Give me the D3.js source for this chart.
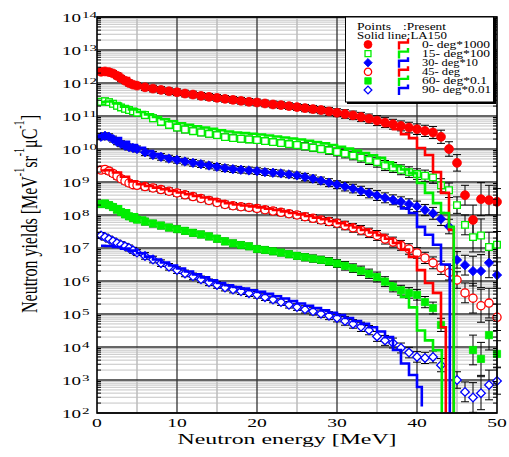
<!DOCTYPE html>
<html>
<head>
<meta charset="utf-8">
<script src="https://cdn.jsdelivr.net/npm/d3@7"></script>
<style>
  body { margin: 0; background: #fff; }
  text { font-family: "Liberation Serif", "Times New Roman", serif; fill: #000; }
</style>
</head>
<body>
<div id="chart"></div>
<script>
// ----- DATA -----
// Energies of the measured points [MeV]
const energies = [0.5, 1, 1.5, 2, 2.5, 3, 3.5, 4, 4.5, 5,
  6, 7, 8, 9, 10, 11, 12, 13, 14, 15,
  16, 17, 18, 19, 20, 21, 22, 23, 24, 25,
  26, 27, 28, 29, 30, 31, 32, 33, 34, 35,
  36, 37, 38, 39, 40, 41, 42, 43, 44, 45,
  46, 47, 48, 49, 50];

// Measured yields, log10 values (already multiplied by the legend factor)
const deg0 = [12.34, 12.35, 12.33, 12.29, 12.22, 12.14, 12.07, 12.0, 11.95, 11.92,
  11.87, 11.83, 11.79, 11.75, 11.72, 11.68, 11.65, 11.61, 11.58, 11.55,
  11.52, 11.49, 11.46, 11.43, 11.41, 11.38, 11.35, 11.33, 11.3, 11.27,
  11.24, 11.21, 11.18, 11.14, 11.1, 11.06, 11.02, 10.97, 10.92, 10.86,
  10.8, 10.75, 10.7, 10.65, 10.6, 10.55, 10.5, 10.37, 10.0, 9.58,
  8.6, 7.85, 8.48, 8.45, 8.4];
const deg15 = [11.43, 11.45, 11.42, 11.37, 11.31, 11.26, 11.22, 11.18, 11.14, 11.1,
  11.03, 10.93, 10.82, 10.73, 10.65, 10.59, 10.54, 10.5, 10.46, 10.42,
  10.36, 10.33, 10.31, 10.29, 10.27, 10.24, 10.21, 10.18, 10.15, 10.12,
  10.08, 10.04, 10.0, 9.96, 9.91, 9.86, 9.8, 9.74, 9.67, 9.6,
  9.5, 9.44, 9.37, 9.3, 9.24, 9.19, 9.14, 8.9, 8.75, 8.3,
  7.7, 7.33, 7.38, 7.03, 7.1];
const deg30 = [10.37, 10.4, 10.37, 10.3, 10.22, 10.16, 10.1, 10.06, 10.03, 10.0,
  9.9, 9.82, 9.76, 9.71, 9.67, 9.62, 9.58, 9.54, 9.5, 9.46,
  9.42, 9.39, 9.37, 9.35, 9.33, 9.3, 9.28, 9.26, 9.23, 9.2,
  9.15, 9.1, 9.04, 8.98, 8.92, 8.86, 8.8, 8.73, 8.66, 8.59,
  8.52, 8.46, 8.4, 8.33, 8.26, 8.15, 8.05, 7.88, 7.65, 6.64,
  6.48, 6.3, 6.3, 6.55, 6.18];
const deg45 = [9.36, 9.38, 9.33, 9.26, 9.18, 9.1, 9.03, 8.97, 8.92, 8.9,
  8.86, 8.82, 8.77, 8.72, 8.67, 8.61, 8.56, 8.5, 8.44, 8.38,
  8.32, 8.28, 8.25, 8.23, 8.2, 8.16, 8.12, 8.08, 8.04, 8.0,
  7.95, 7.9, 7.85, 7.8, 7.75, 7.68, 7.61, 7.54, 7.46, 7.38,
  7.27, 7.18, 7.08, 6.97, 6.85, 6.7, 6.55, 6.4, 6.25, 6.03,
  5.64, 5.48, 5.25, 5.33, 4.9];
const deg60 = [8.33, 8.35, 8.3, 8.24, 8.16, 8.09, 8.02, 7.96, 7.91, 7.86,
  7.8, 7.74, 7.68, 7.62, 7.57, 7.52, 7.46, 7.41, 7.35, 7.28,
  7.2, 7.14, 7.09, 7.05, 6.97, 6.94, 6.9, 6.86, 6.81, 6.76,
  6.72, 6.68, 6.64, 6.59, 6.53, 6.46, 6.39, 6.31, 6.22, 6.12,
  5.98, 5.82, 5.72, 5.64, 5.58, 5.36, 5.18, 4.67, null, null,
  null, 3.91, 3.64, 4.36, 3.79];
const deg90 = [7.38, 7.33, 7.27, 7.21, 7.15, 7.1, 7.05, 7.0, 6.93, 6.86,
  6.76, 6.65, 6.54, 6.43, 6.33, 6.23, 6.14, 6.05, 5.96, 5.88,
  5.8, 5.74, 5.69, 5.63, 5.58, 5.51, 5.44, 5.36, 5.28, 5.21,
  5.14, 5.08, 5.01, 4.95, 4.88, 4.79, 4.7, 4.61, 4.51, 4.32,
  4.2, 4.12, 3.97, 3.83, 3.7, 3.67, 3.7, 3.45, null, 3.0,
  2.64, 2.47, 2.6, 2.85, 2.97];

// Error half-widths in decades, per energy
const errLog = [0.09, 0.09, 0.09, 0.09, 0.09, 0.09, 0.09, 0.09, 0.09, 0.09,
  0.1, 0.1, 0.1, 0.1, 0.1, 0.1, 0.1, 0.1, 0.1, 0.1,
  0.1, 0.1, 0.1, 0.1, 0.1, 0.1, 0.1, 0.1, 0.1, 0.1,
  0.11, 0.11, 0.11, 0.12, 0.12, 0.13, 0.13, 0.14, 0.14, 0.15,
  0.15, 0.15, 0.15, 0.16, 0.16, 0.17, 0.18, 0.2, 0.22, 0.25,
  0.3, 0.45, 0.5, 0.45, 0.4];

// LA150 histograms, log10 value per 1 MeV bin (first bin starts at 0.5 MeV)
const la0 = [12.32, 12.34, 12.28, 12.15, 12.0, 11.91, 11.86, 11.82, 11.78, 11.74,
  11.7, 11.67, 11.63, 11.6, 11.57, 11.54, 11.51, 11.48, 11.45, 11.42,
  11.39, 11.36, 11.34, 11.31, 11.28, 11.25, 11.22, 11.19, 11.15, 11.11,
  11.07, 11.02, 10.97, 10.92, 10.86, 10.8, 10.7, 10.6, 10.45, 10.33,
  10.03, 9.82, 9.3, 8.67, 7.55];
const la15 = [11.42, 11.44, 11.38, 11.28, 11.2, 11.12, 11.05, 10.97, 10.9, 10.84,
  10.78, 10.73, 10.69, 10.65, 10.61, 10.57, 10.53, 10.5, 10.48, 10.46,
  10.44, 10.41, 10.38, 10.35, 10.32, 10.29, 10.25, 10.21, 10.17, 10.12,
  10.07, 10.01, 9.95, 9.88, 9.81, 9.73, 9.6, 9.48, 9.38, 9.27,
  8.97, 8.67, 8.36, 8.06, 7.64];
const la30 = [10.36, 10.39, 10.33, 10.22, 10.12, 10.04, 9.94, 9.85, 9.78, 9.72,
  9.67, 9.62, 9.58, 9.54, 9.5, 9.46, 9.43, 9.4, 9.38, 9.35,
  9.33, 9.3, 9.28, 9.25, 9.22, 9.18, 9.13, 9.08, 9.02, 8.96,
  8.9, 8.84, 8.78, 8.71, 8.64, 8.56, 8.48, 8.36, 8.2, 8.06,
  7.64, 7.4, 7.1, 6.5];
const la45 = [9.35, 9.36, 9.29, 9.16, 9.02, 8.93, 8.88, 8.83, 8.78, 8.73,
  8.68, 8.63, 8.58, 8.53, 8.48, 8.42, 8.36, 8.32, 8.29, 8.26,
  8.23, 8.19, 8.15, 8.11, 8.06, 8.02, 7.97, 7.92, 7.87, 7.81,
  7.75, 7.69, 7.62, 7.55, 7.47, 7.39, 7.28, 7.15, 6.95, 6.73,
  6.33, 5.94, 5.64, 4.6];
const la60 = [8.32, 8.33, 8.26, 8.14, 8.02, 7.92, 7.82, 7.75, 7.69, 7.63,
  7.58, 7.53, 7.47, 7.42, 7.36, 7.28, 7.2, 7.14, 7.09, 7.04,
  7.0, 6.96, 6.92, 6.88, 6.83, 6.79, 6.74, 6.69, 6.64, 6.58,
  6.52, 6.45, 6.37, 6.28, 6.19, 6.06, 5.93, 5.78, 5.52, 5.2,
  4.5, 4.2, 3.9];
const la90 = [7.07, 7.06, 7.03, 6.98, 6.92, 6.84, 6.74, 6.65, 6.56, 6.47,
  6.38, 6.29, 6.2, 6.11, 6.02, 5.94, 5.87, 5.82, 5.77, 5.72,
  5.67, 5.61, 5.54, 5.47, 5.39, 5.32, 5.25, 5.18, 5.11, 5.04,
  4.97, 4.88, 4.79, 4.7, 4.6, 4.47, 4.3, 3.91, 3.5, 3.15,
  2.79];
// energy where each histogram ends, and the log10 level its last edge falls to
const laEnd = [44.6, 44.6, 44.1, 43.6, 43.1, 40.6];
const laEndLevel = [1, 1, 1, 1, 1, 2.2];

const seriesNames = ["0- deg*1000", "15- deg*100", "30- deg*10", "45- deg", "60- deg*0.1", "90- deg*0.01"];
const nameWidths = [68, 68, 56, 38, 65, 69];
const seriesColors = ["#ff0000", "#00ee00", "#0000ff", "#ff0000", "#00ee00", "#0000ff"];
const seriesShapes = ["circle", "square", "diamond", "circle", "square", "diamond"];
const seriesFilled = [true, false, true, false, true, false];
const pointSets = [deg0, deg15, deg30, deg45, deg60, deg90];
const lineSets = [la0, la15, la30, la45, la60, la90];

const xTicks = [0, 10, 20, 30, 40, 50];
const yExps = [2, 3, 4, 5, 6, 7, 8, 9, 10, 11, 12, 13, 14];

// ----- SVG -----
const width = 509, height = 457;
const margins = { top: 17, right: 12, bottom: 44, left: 97 };

const svg = d3.select("#chart").append("svg")
  .attr("width", width).attr("height", height);

const x = d3.scaleLinear().domain([0, 50]).range([margins.left, width - margins.right]);
const y = d3.scaleLog().domain([1e2, 1e14]).range([height - margins.bottom, margins.top]);
const yl = v => y(Math.pow(10, v));

const x0 = x(0), x1 = x(50), yTop = y(1e14), yBot = y(1e2);

svg.append("clipPath").attr("id", "plot")
  .append("rect").attr("x", x0).attr("y", yTop).attr("width", x1 - x0).attr("height", yBot - yTop);
svg.append("clipPath").attr("id", "plotWide")
  .append("rect").attr("x", x0).attr("y", yTop).attr("width", x1 - x0 + 8).attr("height", yBot - yTop);

// ----- GRID -----
const grid = svg.append("g");
const minorY = [];
yExps.slice(0, -1).forEach(e => { for (let m = 2; m <= 9; m++) minorY.push(m * Math.pow(10, e)); });
grid.selectAll(".hm").data(minorY).join("line")
  .attr("x1", x0).attr("x2", x1).attr("y1", d => y(d)).attr("y2", d => y(d))
  .attr("stroke", "#c4c4c4").attr("stroke-width", 1);
grid.selectAll(".vm").data([5, 15, 25, 35, 45]).join("line")
  .attr("y1", yTop).attr("y2", yBot).attr("x1", d => x(d)).attr("x2", d => x(d))
  .attr("stroke", "#bbbbbb").attr("stroke-width", 1.5);
grid.selectAll(".hM").data(yExps).join("line")
  .attr("x1", x0).attr("x2", x1).attr("y1", d => yl(d)).attr("y2", d => yl(d))
  .attr("stroke", "#333").attr("stroke-width", 1.3);
grid.selectAll(".vM").data([10, 20, 30, 40]).join("line")
  .attr("y1", yTop).attr("y2", yBot).attr("x1", d => x(d)).attr("x2", d => x(d))
  .attr("stroke", "#333").attr("stroke-width", 1.3);

// ----- ERROR BARS -----
const bars = svg.append("g").attr("clip-path", "url(#plotWide)")
  .attr("stroke", "#000").attr("stroke-width", 1).attr("fill", "none");
pointSets.forEach(set => {
  set.forEach((v, i) => {
    if (v === null) return;
    const e = energies[i], er = errLog[i];
    const cx = x(e), ya = yl(v + er), yb = yl(v - er);
    bars.append("path").attr("d", `M${cx},${ya}V${yb}M${cx - 4},${ya}H${cx + 4}M${cx - 4},${yb}H${cx + 4}`);
  });
});

// ----- MARKERS -----
const markerSize = { circle: 62, square: 52, diamond: 44 };

function drawMarker(g, shape, filled, color, cx, cy, scale) {
  const s = markerSize[shape] * (filled ? 1 : 0.85) * (scale || 1);
  const type = shape === "circle" ? d3.symbolCircle : d3.symbolSquare;
  g.append("path")
    .attr("d", d3.symbol(type, s)())
    .attr("transform", `translate(${cx},${cy})` + (shape === "diamond" ? " rotate(45)" : ""))
    .attr("fill", filled ? color : "#fff")
    .attr("stroke", color)
    .attr("stroke-width", filled ? 0.8 : 1.3);
}

const marks = svg.append("g").attr("clip-path", "url(#plotWide)");
pointSets.forEach((set, s) => {
  set.forEach((v, i) => {
    if (v === null) return;
    drawMarker(marks, seriesShapes[s], seriesFilled[s], seriesColors[s], x(energies[i]), yl(v));
  });
});

// ----- LA150 HISTOGRAMS -----
const lines = svg.append("g").attr("clip-path", "url(#plot)");
lineSets.forEach((vals, s) => {
  let d = "";
  vals.forEach((v, k) => {
    const lo = k === 0 ? 0.5 : k;
    const hi = k === vals.length - 1 ? laEnd[s] : k + 1;
    d += (k === 0 ? `M${x(lo)},${yl(v)}` : `V${yl(v)}`) + `H${x(hi)}`;
  });
  d += `V${yl(laEndLevel[s])}`;
  lines.append("path").attr("d", d)
    .attr("fill", "none").attr("stroke", seriesColors[s])
    .attr("stroke-width", 2.6).attr("stroke-linejoin", "miter");
});

// ----- FRAME + TICKS -----
svg.append("rect").attr("x", x0).attr("y", yTop).attr("width", x1 - x0).attr("height", yBot - yTop)
  .attr("fill", "none").attr("stroke", "#000").attr("stroke-width", 1.6);

const ticks = svg.append("g").attr("stroke", "#000").attr("stroke-width", 1);
minorY.forEach(v => {
  ticks.append("line").attr("x1", x1 - 4).attr("x2", x1).attr("y1", y(v)).attr("y2", y(v));
  ticks.append("line").attr("x1", x0).attr("x2", x0 + 4).attr("y1", y(v)).attr("y2", y(v));
});

// ----- AXIS LABELS -----
// text stretched to a fixed width (the original glyphs are wide)
function fitText(g, txt, tx, ty, size, anchor, len) {
  return g.append("text")
    .attr("x", tx).attr("y", ty)
    .attr("text-anchor", anchor)
    .attr("textLength", len).attr("lengthAdjust", "spacingAndGlyphs")
    .style("font-size", size + "px")
    .text(txt);
}

const labels = svg.append("g");
yExps.forEach(e => {
  const ty = yl(e);
  fitText(labels, "10", x0 - 16, ty + 4.5, 13, "end", 19);
  fitText(labels, String(e), x0 - 15, ty + 0.5, 9, "start", String(e).length * 7.5);
});
xTicks.forEach(t => fitText(labels, String(t), x(t), yBot + 14, 13, "middle", String(t).length * 9.8));

fitText(labels, "Neutron energy [MeV]", 287, yBot + 31, 15, "middle", 219);

// y title with superscripts
const yt = labels.append("text")
  .attr("transform", "translate(37,214) rotate(-90) scale(1,1.4)")
  .attr("text-anchor", "middle")
  .style("font-size", "16px");
yt.append("tspan").text("Neutron yields [MeV");
yt.append("tspan").attr("dy", -9).style("font-size", "10px").text("-1");
yt.append("tspan").attr("dy", 9).text("sr");
yt.append("tspan").attr("dy", -9).style("font-size", "10px").text("-1");
yt.append("tspan").attr("dy", 9).text("\u03bcC");
yt.append("tspan").attr("dy", -9).style("font-size", "10px").text("-1");
yt.append("tspan").attr("dy", 9).text("]");

// ----- LEGEND -----
const lg = svg.append("g");
lg.append("rect").attr("x", 345.5).attr("y", yTop).attr("width", 148).attr("height", 85)
  .attr("fill", "#fff").attr("stroke", "#000").attr("stroke-width", 1);
lg.append("path").attr("d", `M347,${yTop + 86}H495V${yTop + 2}`)
  .attr("fill", "none").attr("stroke", "#000").attr("stroke-width", 2);

fitText(lg, "Points", 357, 30, 9.5, "start", 34);
fitText(lg, ":Present", 403, 30, 9.5, "start", 43);
fitText(lg, "Solid line:LA150", 357, 38.5, 9.5, "start", 90);

seriesNames.forEach((name, s) => {
  const cy = 44.5 + s * 9.1;
  drawMarker(lg, seriesShapes[s], seriesFilled[s], seriesColors[s], 368, cy, 0.8);
  lg.append("path")
    .attr("d", `M399,${cy + 5}V${cy - 2}H408V${cy - 5.5}`)
    .attr("fill", "none").attr("stroke", seriesColors[s]).attr("stroke-width", 2.4);
  fitText(lg, name, 422, cy + 3.3, 9.5, "start", nameWidths[s]);
});
</script>
</body>
</html>
